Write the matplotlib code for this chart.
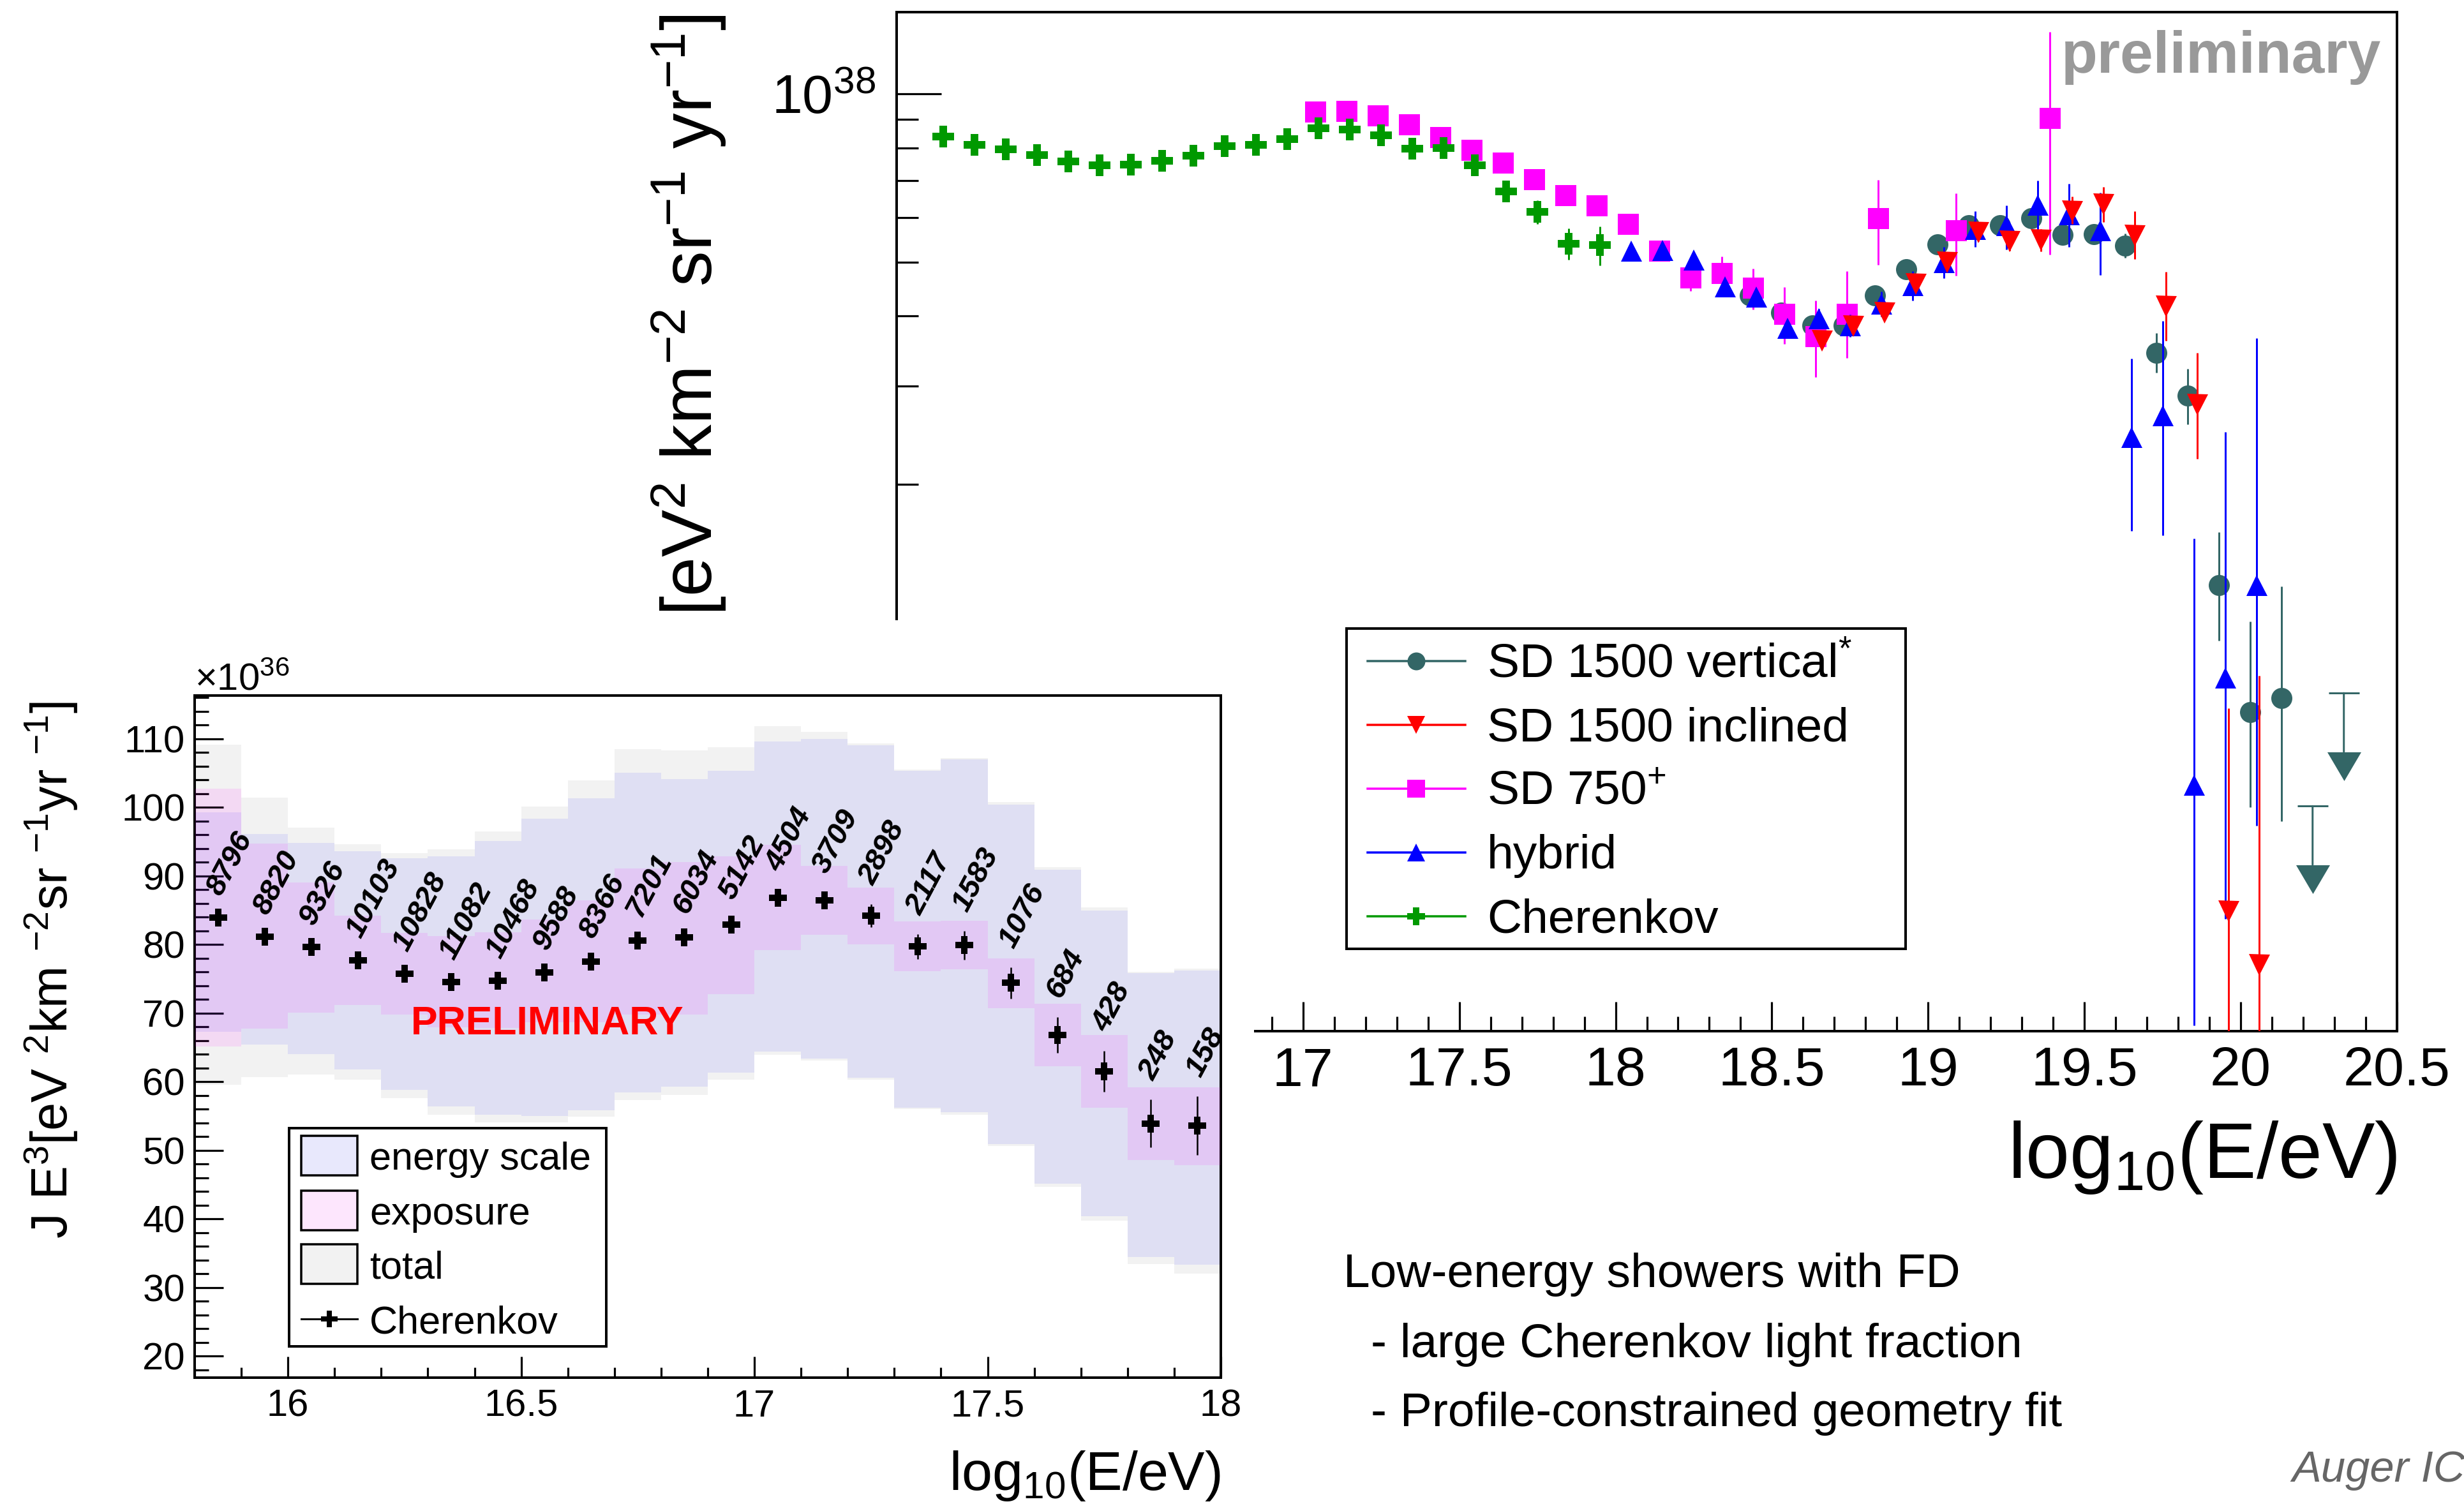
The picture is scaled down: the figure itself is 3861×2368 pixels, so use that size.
import numpy as np
import matplotlib
matplotlib.use('Agg')
import matplotlib.pyplot as plt
from matplotlib.lines import Line2D
from matplotlib.patches import Rectangle
from matplotlib.transforms import offset_copy
from matplotlib.ticker import MultipleLocator, LogLocator, NullFormatter, FuncFormatter

plt.rcParams['font.family'] = ['Liberation Sans', 'DejaVu Sans']
plt.rcParams['mathtext.fontset'] = 'custom'
plt.rcParams['mathtext.rm'] = 'Liberation Sans'
plt.rcParams['mathtext.it'] = 'Liberation Sans:italic'
plt.rcParams['mathtext.bf'] = 'Liberation Sans:bold'

# ---------------- data ----------------
# Cherenkov spectrum (units of 1e36 eV^2 km^-2 sr^-1 yr^-1)
cher_x = [15.85, 15.95, 16.05, 16.15, 16.25, 16.35, 16.45, 16.55, 16.65, 16.75, 16.85,
          16.95, 17.05, 17.15, 17.25, 17.35, 17.45, 17.55, 17.65, 17.75, 17.85, 17.95]
cher_y = [83.9, 81.1, 79.6, 77.7, 75.7, 74.5, 74.7, 75.9, 77.5, 80.6, 81.0,
          82.9, 86.8, 86.4, 84.2, 79.7, 79.9, 74.4, 66.8, 61.5, 53.9, 53.6]
cher_err = [0.4, 0.4, 0.4, 0.5, 0.5, 0.5, 0.5, 0.5, 0.6, 0.6, 0.7,
            0.8, 1.0, 1.2, 1.7, 1.8, 2.1, 2.3, 2.6, 3.0, 3.5, 4.3]
cher_counts = [8796, 8820, 9326, 10103, 10828, 11082, 10468, 9588, 8366, 7201, 6034,
               5142, 4504, 3709, 2898, 2117, 1583, 1076, 684, 428, 248, 158]
energy_hi = [99.3, 96.1, 94.8, 93.6, 92.6, 92.9, 95.1, 98.3, 101.3, 105.0, 104.1,
             105.3, 109.6, 110.0, 109.0, 105.3, 107.0, 100.4, 90.9, 84.9, 75.8, 76.2]
energy_lo = [67.3, 65.4, 64.0, 61.8, 58.8, 56.4, 55.2, 55.0, 55.8, 58.4, 59.3,
             61.3, 64.4, 63.4, 60.6, 56.2, 55.5, 50.9, 45.1, 40.4, 34.4, 33.3]
expo_hi = [102.7, 94.7, 89.0, 84.2, 81.7, 81.2, 81.8, 83.6, 86.4, 91.1, 92.0,
           92.9, 94.5, 91.5, 88.3, 83.4, 83.5, 78.0, 71.4, 66.8, 59.2, 59.2]
expo_lo = [65.1, 67.7, 70.1, 71.2, 69.8, 67.9, 67.8, 68.7, 68.7, 69.8, 69.8,
           72.8, 79.2, 81.4, 80.0, 76.1, 76.4, 70.7, 62.2, 56.2, 48.6, 47.8]
total_hi = [109.1, 101.4, 97.0, 94.6, 93.3, 93.9, 96.5, 100.1, 103.9, 108.5, 108.3,
            108.8, 111.8, 111.0, 109.3, 105.5, 107.2, 100.8, 91.3, 85.4, 76.0, 76.5]
total_lo = [59.5, 60.7, 61.0, 60.3, 57.6, 55.2, 54.1, 54.1, 54.9, 57.3, 58.1,
            60.3, 63.9, 63.1, 60.3, 56.0, 55.2, 50.6, 44.7, 39.7, 33.4, 32.0]

# main spectrum series (units of 1e37 eV^2 km^-2 sr^-1 yr^-1)
sd750_x = [17.04, 17.14, 17.24, 17.34, 17.44, 17.54, 17.64, 17.74, 17.84, 17.94, 18.04,
           18.14, 18.24, 18.34, 18.44, 18.54, 18.64, 18.74, 18.84, 19.09, 19.39]
sd750_y = [9.28, 9.31, 9.15, 8.82, 8.37, 7.93, 7.53, 7.03, 6.59, 6.31, 5.85,
           5.24, 4.69, 4.78, 4.49, 4.04, 3.68, 4.04, 5.98, 5.69, 9.05]
sd750_elo = [0.08, 0.08, 0.08, 0.08, 0.08, 0.08, 0.08, 0.08, 0.08, 0.08, 0.12,
             0.15, 0.25, 0.34, 0.38, 0.47, 0.57, 0.67, 1.04, 0.96, 3.90]
sd750_ehi = [0.08, 0.08, 0.08, 0.08, 0.08, 0.08, 0.08, 0.08, 0.08, 0.08, 0.12,
             0.15, 0.25, 0.33, 0.38, 0.47, 0.59, 0.77, 1.03, 0.94, 3.85]

hyb_x = [18.05, 18.15, 18.25, 18.35, 18.45, 18.55, 18.65, 18.75, 18.85, 18.95, 19.05,
         19.15, 19.25, 19.35, 19.45, 19.55, 19.65, 19.75, 19.85, 19.95, 20.05]
hyb_y = [5.24, 5.25, 5.04, 4.52, 4.33, 3.81, 3.96, 3.85, 4.21, 4.54, 4.99,
         5.72, 5.81, 6.32, 6.09, 5.69, 2.43, 2.66, 0.580, 0.901, 1.319]
hyb_elo = [0.08, 0.08, 0.09, 0.10, 0.11, 0.13, 0.16, 0.18, 0.22, 0.27, 0.31,
           0.40, 0.54, 0.62, 0.77, 0.95, 0.78, 1.04, 0.365, 0.567, 0.829]
hyb_ehi = [0.08, 0.08, 0.09, 0.10, 0.11, 0.13, 0.16, 0.18, 0.22, 0.27, 0.33,
           0.44, 0.50, 0.67, 0.81, 0.96, 0.93, 1.26, 1.02, 1.58, 2.33]

vert_x = [18.43, 18.53, 18.63, 18.73, 18.83, 18.93, 19.03, 19.13, 19.23, 19.33, 19.43,
          19.53, 19.63, 19.73, 19.83, 19.93, 20.03, 20.13]
vert_y = [4.36, 4.06, 3.85, 3.85, 4.36, 4.85, 5.37, 5.81, 5.82, 5.98, 5.59,
          5.61, 5.35, 3.44, 2.88, 1.32, 0.783, 0.829]
vert_elo = [0.05, 0.05, 0.05, 0.05, 0.06, 0.07, 0.08, 0.09, 0.10, 0.12, 0.15,
            0.20, 0.27, 0.27, 0.32, 0.27, 0.255, 0.33]
vert_ehi = [0.05, 0.05, 0.05, 0.05, 0.06, 0.07, 0.08, 0.09, 0.10, 0.12, 0.15,
            0.20, 0.27, 0.29, 0.34, 0.32, 0.354, 0.485]
vert_ul_x = [20.23, 20.33]
vert_ul_y = [0.531, 0.846]

incl_x = [18.66, 18.76, 18.86, 18.96, 19.06, 19.16, 19.26, 19.36, 19.46, 19.56, 19.66,
          19.76, 19.86, 19.96, 20.06]
incl_y = [3.61, 3.84, 4.06, 4.57, 4.99, 5.65, 5.45, 5.47, 6.16, 6.35, 5.58,
          4.16, 2.78, 0.344, 0.276]
incl_elo = [0.08, 0.09, 0.10, 0.12, 0.15, 0.20, 0.22, 0.25, 0.31, 0.45, 0.52,
            0.55, 0.56, 0.20, 0.13]
incl_ehi = [0.08, 0.09, 0.10, 0.12, 0.15, 0.20, 0.22, 0.25, 0.39, 0.46, 0.58,
            0.64, 0.66, 0.45, 0.632]

main_labels = [r'SD 1500 vertical$^{*}$', 'SD 1500 inclined', r'SD 750$^{+}$', 'hybrid', 'Cherenkov']
inset_labels = ['energy scale', 'exposure', 'total', 'Cherenkov']
note_lines = ['Low-energy showers with FD', '- large Cherenkov light fraction',
              '- Profile-constrained geometry fit']

# ---------------- styling ----------------
TEAL = '#336666'
RED = '#ff0000'
MAG = '#ff00ff'
BLUE = '#0000ff'
GREEN = '#009900'
S37 = 1e37
S36 = 1e36

W, H = 3861, 2368
DPI = 100
fig = plt.figure(figsize=(W / DPI, H / DPI), dpi=DPI)


def fx(px):
    return px / W


def fy(py):
    return 1 - py / H


def pt(px):
    return px * 72.0 / DPI


# ---------------- main axes ----------------
ax = fig.add_axes([fx(1405), fy(1616), fx(3756) - fx(1405), fy(19) - fy(1616)])
ax.set_yscale('log')
ax.set_xlim(15.7, 20.5)
ax.set_ylim(2.1e36, 1.4e38)
ax.xaxis.set_major_locator(MultipleLocator(0.5))
ax.xaxis.set_minor_locator(MultipleLocator(0.1))
ax.xaxis.set_major_formatter(FuncFormatter(lambda v, p: f'{v:g}'))
ax.yaxis.set_major_locator(LogLocator(base=10))
ax.yaxis.set_minor_locator(LogLocator(base=10, subs=np.arange(2, 10)))
ax.yaxis.set_minor_formatter(NullFormatter())
ax.tick_params(which='both', direction='in', top=False, right=False, width=pt(3.2),
               labelsize=62)
ax.tick_params(axis='x', which='major', length=pt(46), pad=pt(23))
ax.tick_params(axis='x', which='minor', length=pt(23))
ax.tick_params(axis='y', which='major', length=pt(70), pad=pt(33))
ax.tick_params(axis='y', which='minor', length=pt(34))
for s in ax.spines.values():
    s.set_linewidth(pt(4))

eb = dict(ls='none', mew=0, capsize=pt(8), elinewidth=pt(3), capthick=pt(3))
ax.errorbar(vert_x, np.array(vert_y) * S37,
            yerr=[np.array(vert_elo) * S37, np.array(vert_ehi) * S37],
            marker='o', ms=pt(33), color=TEAL, zorder=3, **eb)
ax.errorbar(sd750_x, np.array(sd750_y) * S37,
            yerr=[np.array(sd750_elo) * S37, np.array(sd750_ehi) * S37],
            marker='s', ms=pt(33), color=MAG, zorder=4, **eb)
ax.errorbar(hyb_x, np.array(hyb_y) * S37,
            yerr=[np.array(hyb_elo) * S37, np.array(hyb_ehi) * S37],
            marker='^', ms=pt(33), color=BLUE, zorder=5, **eb)
ax.errorbar(incl_x, np.array(incl_y) * S37,
            yerr=[np.array(incl_elo) * S37, np.array(incl_ehi) * S37],
            marker='v', ms=pt(33), color=RED, zorder=6, **eb)
ax.errorbar(cher_x, np.array(cher_y) * S36, yerr=np.array(cher_err) * S36,
            marker='P', ms=pt(34), color=GREEN, zorder=7, **eb)

# upper limits (SD 1500 vertical)
ul_y = np.array(vert_ul_y) * S37
ax.plot(vert_ul_x, ul_y, ls='none', marker='_', ms=pt(47), mew=pt(3), color=TEAL, zorder=3)
for xv, yv in zip(vert_ul_x, ul_y):
    ax.annotate('', xy=(xv, yv), xytext=(0, -92), textcoords='offset pixels',
                arrowprops=dict(arrowstyle='-', color=TEAL, lw=pt(3), shrinkA=0, shrinkB=0),
                zorder=3)
tri_down = [(-1, 0.85), (1, 0.85), (0, -0.85)]
trans_ul = offset_copy(ax.transData, fig=fig, x=0, y=-115, units='dots')
ax.plot(vert_ul_x, ul_y, ls='none', marker=tri_down, ms=pt(53), mew=0, color=TEAL,
        transform=trans_ul, zorder=3)

# ---------------- white pad under the inset ----------------
pad = Rectangle((0, 0), fx(1965), fy(972), transform=fig.transFigure,
                facecolor='white', edgecolor='none', zorder=1)
fig.add_artist(pad)

# ---------------- inset axes ----------------
axi = fig.add_axes([fx(305), fy(2159), fx(1913) - fx(305), fy(1090) - fy(2159)], zorder=2)
axi.set_xlim(15.8, 18.0)
axi.set_ylim(16.84, 116.3)
axi.xaxis.set_major_locator(MultipleLocator(0.5))
axi.xaxis.set_minor_locator(MultipleLocator(0.1))
axi.xaxis.set_major_formatter(FuncFormatter(lambda v, p: f'{v:g}'))
axi.yaxis.set_major_locator(MultipleLocator(10))
axi.yaxis.set_minor_locator(MultipleLocator(2))
axi.tick_params(which='both', direction='in', top=False, right=False, width=pt(3.2),
                labelsize=43)
axi.tick_params(axis='x', which='major', length=pt(33), pad=pt(18))
axi.tick_params(axis='x', which='minor', length=pt(16))
axi.tick_params(axis='y', which='major', length=pt(45), pad=pt(15))
axi.tick_params(axis='y', which='minor', length=pt(22))
for s in axi.spines.values():
    s.set_linewidth(pt(4))

edges = np.append(np.array(cher_x) - 0.05, cher_x[-1] + 0.05)
axi.stairs(total_hi, edges, baseline=total_lo, fill=True, facecolor='#f2f2f2',
           edgecolor='none', zorder=1)
axi.stairs(energy_hi, edges, baseline=energy_lo, fill=True, facecolor=(0, 0, 1, 0.08),
           edgecolor='none', zorder=2)
axi.stairs(expo_hi, edges, baseline=expo_lo, fill=True, facecolor=(1, 0, 1, 0.10),
           edgecolor='none', zorder=3)
axi.errorbar(cher_x, cher_y, yerr=cher_err, ls='none', marker='P', ms=pt(28), mew=0,
             color='black', capsize=pt(6.5), elinewidth=pt(2.5), capthick=pt(2.5), zorder=5)
for xv, yv, ev, n in zip(cher_x, cher_y, cher_err, cher_counts):
    axi.text(xv + 0.006, yv + ev + 2.6, str(n), rotation=62, rotation_mode='anchor',
             ha='left', va='baseline', fontsize=34, fontweight='bold', fontstyle='italic',
             zorder=6)
axi.text(16.556, 68.4, 'PRELIMINARY', ha='center', va='center', color='red',
         fontsize=45, fontweight='bold', zorder=6)

# ---------------- inset legend (drawn as a key box) ----------------
fig.add_artist(Rectangle((fx(453), fy(2110)), fx(950) - fx(453), fy(1768) - fy(2110),
                         transform=fig.transFigure, facecolor='white', edgecolor='black',
                         lw=pt(4), zorder=4))
key_fill = ['#e8e8fc', '#fde6fd', '#f2f2f2']
rows_i = [1811, 1897, 1981, 2067]
for i, lab in enumerate(inset_labels):
    yc = rows_i[i]
    if i < 3:
        fig.add_artist(Rectangle((fx(472), fy(yc + 31)), fx(560) - fx(472), fy(yc - 31) - fy(yc + 31),
                                 transform=fig.transFigure, facecolor=key_fill[i],
                                 edgecolor='black', lw=pt(3.5), zorder=5))
    else:
        fig.add_artist(Line2D([fx(472), fx(516), fx(560)], [fy(yc)] * 3, transform=fig.transFigure,
                              color='black', lw=pt(3), marker='P', ms=pt(26), mew=0,
                              markevery=[1], zorder=5))
    fig.text(fx(579), fy(yc + 22), lab, fontsize=44, va='baseline', ha='left', zorder=5)

# ---------------- main legend (drawn as a key box) ----------------
fig.add_artist(Rectangle((fx(2110), fy(1487)), fx(2986) - fx(2110), fy(985) - fy(1487),
                         transform=fig.transFigure, facecolor='white', edgecolor='black',
                         lw=pt(4), zorder=4))
key_cols = [TEAL, RED, MAG, BLUE, GREEN]
key_marks = ['o', 'v', 's', '^', 'P']
for i, lab in enumerate(main_labels):
    yc = 1036 + 100 * i
    fig.add_artist(Line2D([fx(2143), fx(2219), fx(2296)], [fy(yc)] * 3, transform=fig.transFigure,
                          color=key_cols[i], lw=pt(3.5), marker=key_marks[i], ms=pt(28), mew=0,
                          markevery=[1], zorder=5))
    fig.text(fx(2330), fy(yc + 25), lab, fontsize=54, va='baseline', ha='left', zorder=5)

# ---------------- labels and annotations ----------------
fig.text(fx(1080), fy(494), r'[eV$^{2}$ km$^{-2}$ sr$^{-1}$ yr$^{-1}$]', rotation=90,
         ha='center', va='center', fontsize=80)
fig.text(fx(3756), fy(1846), r'log$_{10}$(E/eV)', ha='right', va='baseline', fontsize=89)
fig.text(fx(3731), fy(114), 'preliminary', ha='right', va='baseline', fontsize=67,
         fontweight='bold', color='#999999')
fig.text(fx(80), fy(1520), r'J E$^{3}$[eV $^{2}$km $^{-2}$sr $^{-1}$yr $^{-1}$]', rotation=90,
         ha='center', va='center', fontsize=57, zorder=5)
fig.text(fx(1913), fy(2335), r'log$_{10}$(E/eV)', ha='right', va='baseline', fontsize=62, zorder=5)
fig.text(fx(305), fy(1082), '×10$^{36}$', ha='left', va='baseline', fontsize=43, zorder=5)

fig.text(fx(2105), fy(2017), note_lines[0], fontsize=54, va='baseline', ha='left')
fig.text(fx(2148), fy(2127), note_lines[1], fontsize=54, va='baseline', ha='left')
fig.text(fx(2148), fy(2235), note_lines[2], fontsize=54, va='baseline', ha='left')
fig.text(fx(3591), fy(2322), 'Auger ICRC 2017', fontsize=49.5, style='italic',
         color='#666666', va='baseline', ha='left')

fig.savefig('out.png', dpi=DPI)
